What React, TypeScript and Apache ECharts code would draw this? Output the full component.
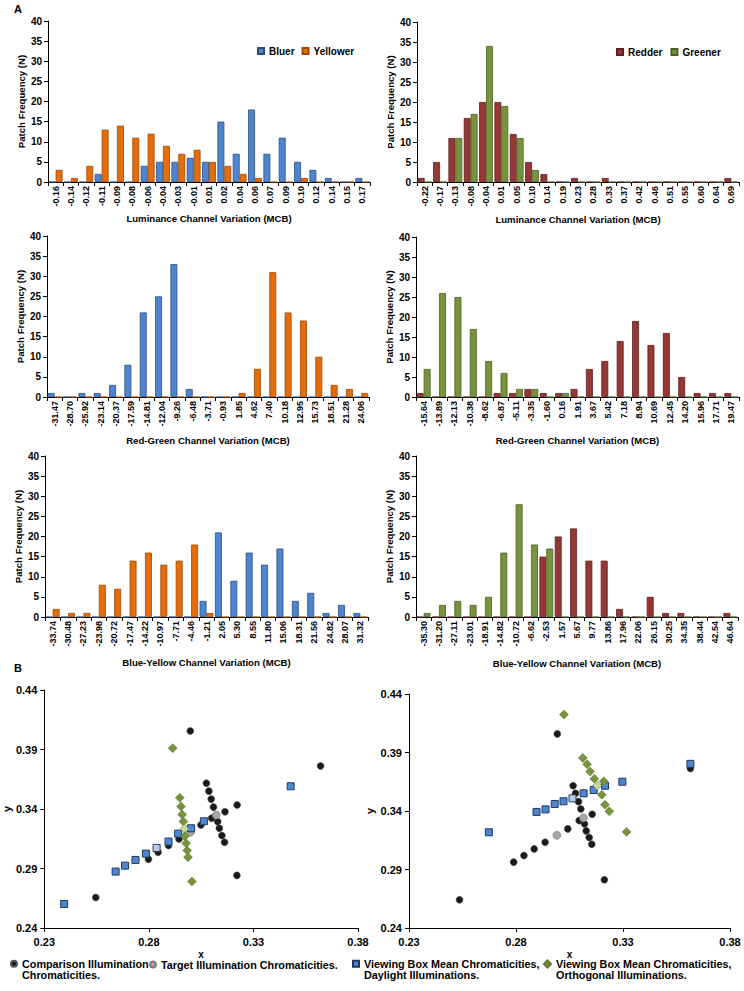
import React, { useEffect, useRef } from "react";
import * as echarts from "echarts";

// ---------- Histogram data ----------
const lumCatsL = ["-0.16","-0.14","-0.12","-0.11","-0.09","-0.08","-0.06","-0.04","-0.03","-0.01","0.01","0.02","0.04","0.06","0.07","0.09","0.10","0.12","0.14","0.15","0.17"];
const lumBluer = [0,0,0,2,0,0,4,5,5,6,5,15,7,18,7,11,5,3,1,0,1];
const lumYellower = [3,1,4,13,14,11,12,9,7,8,5,4,2,1,0,0,1,0,0,0,0];

const lumCatsR = ["-0.22","-0.17","-0.13","-0.08","-0.04","0.01","0.05","0.10","0.14","0.19","0.23","0.28","0.33","0.37","0.42","0.46","0.51","0.55","0.60","0.64","0.69"];
const lumRedder = [1,5,11,16,20,20,12,5,2,0,1,0,1,0,0,0,0,0,0,0,1];
const lumGreener = [0,0,11,17,34,19,11,3,0,0,0,0,0,0,0,0,0,0,0,0,0];

const rgCatsL = ["-31.47","-28.70","-25.92","-23.14","-20.37","-17.59","-14.81","-12.04","-9.26","-6.48","-3.71","-0.93","1.85","4.62","7.40","10.18","12.95","15.73","18.51","21.28","24.06"];
const rgBluer = [1,0,1,1,3,8,21,25,33,2,0,0,0,0,0,0,0,0,0,0,0];
const rgYellower = [0,0,0,0,0,0,0,0,0,0,0,0,1,7,31,21,19,10,3,2,1];

const rgCatsR = ["-15.64","-13.89","-12.13","-10.38","-8.62","-6.87","-5.11","-3.35","-1.60","0.16","1.91","3.67","5.42","7.18","8.94","10.69","12.45","14.20","15.96","17.71","19.47"];
const rgRedder = [1,0,0,0,0,1,1,2,1,1,2,7,9,14,19,13,16,5,1,1,1];
const rgGreener = [7,26,25,17,9,6,2,2,0,1,0,0,0,0,0,0,0,0,0,0,0];

const byCatsL = ["-33.74","-30.48","-27.23","-23.98","-20.72","-17.47","-14.22","-10.97","-7.71","-4.46","-1.21","2.05","5.30","8.55","11.80","15.06","18.31","21.56","24.82","28.07","31.32"];
const byBluer = [0,0,0,0,0,0,0,0,0,0,4,21,9,16,13,17,4,6,1,3,1];
const byYellower = [2,1,1,8,7,14,16,13,14,18,1,0,0,0,0,0,0,0,0,0,0];

const byCatsR = ["-35.30","-31.20","-27.11","-23.01","-18.91","-14.82","-10.72","-6.62","-2.53","1.57","5.67","9.77","13.86","17.96","22.06","26.15","30.25","34.35","38.44","42.54","46.64"];
const byRedder = [0,0,0,0,0,0,0,0,15,20,22,14,14,2,0,5,1,1,0,0,1];
const byGreener = [1,3,4,3,5,16,28,18,17,0,0,0,0,0,0,0,0,0,0,0,0];

const freqTicks = { min: 0, max: 40, interval: 5 };

// ---------- Scatter data (CIE x, y) ----------
const xTicks = [0.23, 0.28, 0.33, 0.38];
const yTicks = [0.24, 0.29, 0.34, 0.39, 0.44];

const compLeft = [[0.2998,0.4056],[0.3621,0.3762],[0.3075,0.3617],[0.3087,0.3550],[0.3098,0.3483],[0.3109,0.3416],[0.3222,0.3434],[0.3164,0.3377],[0.3100,0.3323],[0.3129,0.3294],[0.3137,0.3238],[0.3149,0.3177],[0.3162,0.3121],[0.3049,0.3266],[0.2944,0.3148],[0.2894,0.3094],[0.2844,0.3037],[0.2798,0.2978],[0.2546,0.2657],[0.3221,0.2842]];
const targetLeft = [[0.3122,0.3350],[0.2998,0.3205]];
const dayLeft = [[0.2395,0.2602],[0.2641,0.2874],[0.2686,0.2924],[0.2736,0.2972],[0.2786,0.3025],[0.2837,0.3073],[0.2894,0.3126],[0.2940,0.3193],[0.3002,0.3238],[0.3063,0.3297],[0.3478,0.3591]];
const orthoLeft = [[0.2914,0.3911],[0.2948,0.3494],[0.2954,0.3421],[0.2959,0.3354],[0.2965,0.3295],[0.2970,0.3235],[0.2972,0.3172],[0.2978,0.3113],[0.2983,0.3051],[0.2987,0.2995],[0.3006,0.2790]];
const dayLeftLight = 5;
const orthoLeftLight = 5;

const compRight = [[0.2993,0.4059],[0.3615,0.3763],[0.3067,0.3616],[0.3078,0.3551],[0.3092,0.3480],[0.3103,0.3417],[0.3156,0.3372],[0.3095,0.3318],[0.3120,0.3290],[0.3128,0.3230],[0.3142,0.3173],[0.3154,0.3116],[0.3042,0.3247],[0.2936,0.3133],[0.2885,0.3076],[0.2837,0.3019],[0.2789,0.2963],[0.2536,0.2641],[0.3213,0.2812]];
const targetRight = [[0.3115,0.3341],[0.2991,0.3193]];
const dayRight = [[0.2673,0.3218],[0.2896,0.3392],[0.2938,0.3414],[0.2981,0.3460],[0.3022,0.3483],[0.3064,0.3508],[0.3116,0.3551],[0.3163,0.3579],[0.3216,0.3616],[0.3297,0.3650],[0.3615,0.3803]];
const orthoRight = [[0.3024,0.4224],[0.3112,0.3854],[0.3132,0.3800],[0.3146,0.3737],[0.3166,0.3675],[0.3180,0.3618],[0.3210,0.3654],[0.3201,0.3539],[0.3216,0.3454],[0.3236,0.3397],[0.3317,0.3221]];
const dayRightLight = 5;
const orthoRightLight = 5;

const S_COMP = "Comparison Illumination\nChromaticities.";
const S_TARGET = "Target Illumination Chromaticities.";
const S_DAY = "Viewing Box Mean Chromaticities,\nDaylight Illuminations.";
const S_ORTHO = "Viewing Box Mean Chromaticities,\nOrthogonal Illuminations.";

// ---------- Styles ----------
const FONT = "'Liberation Sans', Arial, Helvetica, sans-serif";
const C = {
  blue: ["#4F85D0", "#2C4C7C"],
  orange: ["#E46C0A", "#9A4A08"],
  red: ["#953735", "#5E2221"],
  green: ["#77933C", "#4C5F26"],
};

// legend icons for two-line entries: the mark sits in the top of a tall box
// (a bare move-to point stretches the box), so it lines up with the first text line
const ICON_CIRCLE_TOP = "path://M0,3A3,3 0 1,1 6,3A3,3 0 1,1 0,3Z M3,17";
const ICON_SQUARE_TOP = "path://M0,0L6,0L6,6L0,6Z M3,17";
const ICON_DIAMOND_TOP = "path://M3.5,-0.5L7,3L3.5,6.5L0,3Z M3.5,17";

const HISTS = [
  { cats: lumCatsL, title: "Luminance Channel Variation (MCB)", s: [["Bluer", lumBluer, C.blue], ["Yellower", lumYellower, C.orange]] },
  { cats: lumCatsR, title: "Luminance Channel Variation (MCB)", s: [["Redder", lumRedder, C.red], ["Greener", lumGreener, C.green]] },
  { cats: rgCatsL, title: "Red-Green Channel Variation (MCB)", s: [["Bluer", rgBluer, C.blue], ["Yellower", rgYellower, C.orange]] },
  { cats: rgCatsR, title: "Red-Green Channel Variation (MCB)", s: [["Redder", rgRedder, C.red], ["Greener", rgGreener, C.green]] },
  { cats: byCatsL, title: "Blue-Yellow Channel Variation (MCB)", s: [["Bluer", byBluer, C.blue], ["Yellower", byYellower, C.orange]] },
  { cats: byCatsR, title: "Blue-Yellow Channel Variation (MCB)", s: [["Redder", byRedder, C.red], ["Greener", byGreener, C.green]] },
];

const HIST_GRIDS = [
  { left: 48, top: 21, width: 322, height: 161 },
  { left: 417, top: 22, width: 322, height: 160 },
  { left: 47, top: 236, width: 322, height: 161 },
  { left: 416, top: 237, width: 323, height: 160 },
  { left: 45, top: 456, width: 323, height: 161 },
  { left: 416, top: 456, width: 322, height: 161 },
];
const HIST_NAME_GAP = [31, 32, 38, 38, 40, 41];

const SCAT_GRIDS = [
  { left: 43, top: 690, width: 315, height: 238 },
  { left: 409, top: 694, width: 321, height: 234 },
];

function buildOption() {
  const grid: any[] = [];
  const xAxis: any[] = [];
  const yAxis: any[] = [];
  const series: any[] = [];
  const black = "#000";

  HISTS.forEach((h, i) => {
    grid.push({ ...HIST_GRIDS[i] });
    xAxis.push({
      type: "category",
      gridIndex: i,
      data: h.cats,
      axisLine: { show: true, lineStyle: { color: black, width: 1 } },
      axisTick: { show: true, interval: 0, length: 4, lineStyle: { color: black } },
      axisLabel: { interval: 0, rotate: 90, fontSize: 9, fontWeight: "bold", color: black, margin: 4, fontFamily: FONT },
      name: h.title,
      nameLocation: "middle",
      nameGap: HIST_NAME_GAP[i],
      nameTextStyle: { fontSize: 9.6, fontWeight: "bold", color: black, fontFamily: FONT },
    });
    yAxis.push({
      type: "value",
      gridIndex: i,
      min: freqTicks.min,
      max: freqTicks.max,
      interval: freqTicks.interval,
      splitLine: { show: false },
      axisLine: { show: true, lineStyle: { color: black, width: 1 } },
      axisTick: { show: true, length: 4, lineStyle: { color: black } },
      axisLabel: { fontSize: 10, fontWeight: "bold", color: black, margin: 6, fontFamily: FONT },
      name: "Patch Frequency (N)",
      nameLocation: "middle",
      nameGap: 21,
      nameTextStyle: { fontSize: 9.6, fontWeight: "bold", color: black, fontFamily: FONT },
    });
    h.s.forEach(([name, data, col]: any) => {
      series.push({
        type: "bar",
        name,
        xAxisIndex: i,
        yAxisIndex: i,
        data,
        barGap: "0%",
        barCategoryGap: "10%",
        itemStyle: { color: col[0], borderColor: col[1], borderWidth: 0.8 },
      });
    });
  });

  const scatSets = [
    { comp: compLeft, target: targetLeft, day: dayLeft, ortho: orthoLeft, dl: dayLeftLight, ol: orthoLeftLight, yGap: 27 },
    { comp: compRight, target: targetRight, day: dayRight, ortho: orthoRight, dl: dayRightLight, ol: orthoRightLight, yGap: 34 },
  ];
  scatSets.forEach((sc, k) => {
    const gi = 6 + k;
    grid.push({ ...SCAT_GRIDS[k] });
    xAxis.push({
      type: "value",
      gridIndex: gi,
      min: xTicks[0],
      max: xTicks[xTicks.length - 1],
      splitLine: { show: false },
      axisLine: { show: true, onZero: false, lineStyle: { color: black, width: 1 } },
      axisTick: { show: true, length: 4, customValues: xTicks, lineStyle: { color: black } },
      axisLabel: { customValues: xTicks, formatter: (v: number) => v.toFixed(2), fontSize: 11, fontWeight: "bold", color: black, margin: 8, fontFamily: FONT },
      name: "x",
      nameLocation: "middle",
      nameGap: 21,
      nameTextStyle: { fontSize: 10, fontWeight: "bold", color: black, fontFamily: FONT, lineHeight: 10 },
    });
    yAxis.push({
      type: "value",
      gridIndex: gi,
      min: yTicks[0],
      max: yTicks[yTicks.length - 1],
      splitLine: { show: false },
      axisLine: { show: true, onZero: false, lineStyle: { color: black, width: 1 } },
      axisTick: { show: true, length: 4, customValues: yTicks, lineStyle: { color: black } },
      axisLabel: { customValues: yTicks, formatter: (v: number) => v.toFixed(2), fontSize: 11, fontWeight: "bold", color: black, margin: 7, fontFamily: FONT },
      name: "y",
      nameLocation: "middle",
      nameGap: sc.yGap,
      nameTextStyle: { fontSize: 11, fontWeight: "bold", color: black, fontFamily: FONT },
    });
    series.push({
      type: "scatter", name: S_COMP, xAxisIndex: gi, yAxisIndex: gi, symbol: "circle", symbolSize: 7,
      data: sc.comp, itemStyle: { color: "#1A1A1A", borderColor: "#555", borderWidth: 0.5, opacity: 1 },
    });
    series.push({
      type: "scatter", name: S_TARGET, xAxisIndex: gi, yAxisIndex: gi, symbol: "circle", symbolSize: 8,
      data: sc.target, itemStyle: { color: "#A6A6A6", borderColor: "#777", borderWidth: 0.6, opacity: 1 },
    });
    series.push({
      type: "scatter", name: S_DAY, xAxisIndex: gi, yAxisIndex: gi, symbol: "rect", symbolSize: 7,
      data: sc.day.map((p, j) => (j === sc.dl ? { value: p, itemStyle: { color: "#B9CDE8" } } : p)),
      itemStyle: { color: "#4F85D0", borderColor: "#1F3A60", borderWidth: 1, opacity: 1 },
    });
    series.push({
      type: "scatter", name: S_ORTHO, xAxisIndex: gi, yAxisIndex: gi, symbol: "diamond", symbolSize: 9,
      data: sc.ortho.map((p, j) => (j === sc.ol ? { value: p, itemStyle: { color: "#C9DA9E" } } : p)),
      itemStyle: { color: "#77933C", borderColor: "#5E7530", borderWidth: 0.5, opacity: 1 },
    });
  });

  const legText = { fontSize: 10, fontWeight: "bold", color: black, fontFamily: FONT };
  const bottomText = { fontSize: 10.8, fontWeight: "bold", color: black, fontFamily: FONT, lineHeight: 10.5 };
  const legend = [
    { data: ["Bluer", "Yellower"], left: 257, top: 46, padding: 0, icon: "rect", itemWidth: 6, itemHeight: 6, itemGap: 7, selectedMode: false, textStyle: legText },
    { data: ["Redder", "Greener"], left: 616, top: 47, padding: 0, icon: "rect", itemWidth: 6, itemHeight: 6, itemGap: 8, selectedMode: false, textStyle: legText },
    { data: [S_COMP], left: 10, top: 958.5, padding: 0, icon: ICON_CIRCLE_TOP, itemWidth: 6, itemHeight: 17, selectedMode: false, textStyle: bottomText },
    { data: [S_TARGET], left: 149, top: 959, padding: 0, icon: "circle", itemWidth: 6, itemHeight: 6, selectedMode: false, textStyle: bottomText },
    { data: [S_DAY], left: 352, top: 958.5, padding: 0, icon: ICON_SQUARE_TOP, itemWidth: 6, itemHeight: 17, selectedMode: false, textStyle: bottomText },
    { data: [S_ORTHO], left: 543, top: 958.5, padding: 0, icon: ICON_DIAMOND_TOP, itemWidth: 7, itemHeight: 17.5, selectedMode: false, textStyle: bottomText },
  ];

  return {
    animation: false,
    backgroundColor: "#fff",
    textStyle: { fontFamily: FONT },
    grid,
    xAxis,
    yAxis,
    series,
    legend,
    graphic: [
      { type: "text", left: 14, top: 3, style: { text: "A", font: `bold 11px ${FONT}`, fill: black } },
      { type: "text", left: 14, top: 662, style: { text: "B", font: `bold 11px ${FONT}`, fill: black } },
    ],
  };
}

export default function App() {
  const ref = useRef<HTMLDivElement>(null);
  useEffect(() => {
    if (!ref.current) return;
    const chart = echarts.init(ref.current, null, { renderer: "svg" });
    chart.setOption(buildOption() as any);
    return () => chart.dispose();
  }, []);
  return (
    <div
      ref={ref}
      style={{ position: "absolute", left: 0, top: 0, width: 744, height: 991, background: "#fff" }}
    />
  );
}
